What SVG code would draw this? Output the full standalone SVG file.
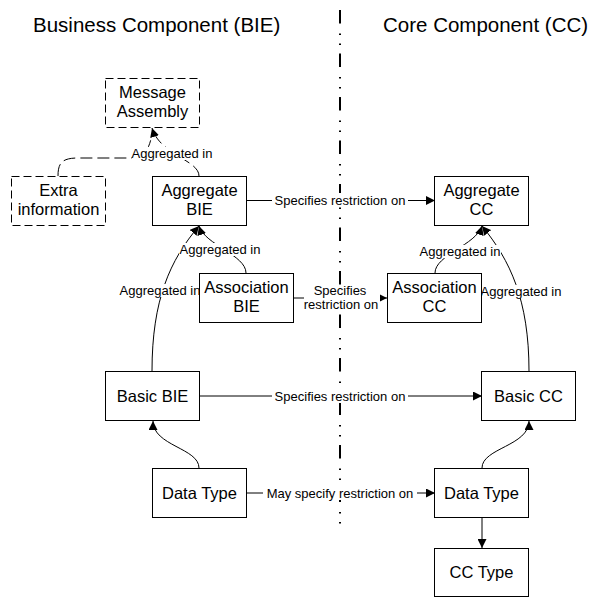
<svg xmlns="http://www.w3.org/2000/svg" width="606" height="597" viewBox="0 0 606 597">
  <style>
    .box { fill: #ffffff; stroke: #000000; stroke-width: 1; }
    .box.dashed { stroke-dasharray: 8 4; }
    .node-text { font-family: "Liberation Sans", Arial, sans-serif; font-size: 16.5px; fill: #000000; text-anchor: middle; }
    .title { font-family: "Liberation Sans", Arial, sans-serif; font-size: 20.5px; fill: #000000; }
    .edge { fill: none; stroke: #000000; stroke-width: 1; }
    .edge.dashed { stroke-dasharray: 12 5; }
    .edge-label { font-family: "Liberation Sans", Arial, sans-serif; font-size: 13px; fill: #000000; text-anchor: middle; }
    .label-bg { fill: #ffffff; }
    .divider { stroke: #000000; stroke-width: 2; stroke-dasharray: 13.5 10 1.5 8.5 1.5 8.5; }
  </style>
  <defs>
    <marker id="arrow" viewBox="0 0 10 10" refX="10" refY="5" markerWidth="9" markerHeight="9" markerUnits="userSpaceOnUse" orient="auto">
      <path d="M0,0 L10,5 L0,10 z" fill="#000000"/>
    </marker>
  </defs>

  <rect width="606" height="597" fill="#ffffff"/>

  <!-- column headings -->
  <text class="title" x="33" y="32">Business Component (BIE)</text>
  <text class="title" x="383" y="32">Core Component (CC)</text>

  <!-- separator between the two columns -->
  <line class="divider" x1="340" y1="10" x2="340" y2="527"/>

  <!-- connectors -->
  <g id="connectors">
    <path class="edge" d="M246,200.5 H435" marker-end="url(#arrow)"/>
    <path class="edge" d="M293,298 H387" marker-end="url(#arrow)"/>
    <path class="edge" d="M199,396 H482" marker-end="url(#arrow)"/>
    <path class="edge" d="M246,493 H435" marker-end="url(#arrow)"/>
    <path class="edge" d="M482,517 V548" marker-end="url(#arrow)"/>
    <path class="edge" d="M199,468 C199,448 153,446 153,421" marker-end="url(#arrow)"/>
    <path class="edge" d="M482,468 C482,448 529,446 529,421" marker-end="url(#arrow)"/>
    <path class="edge" d="M152,371 C152,300 170,260 199,226" marker-end="url(#arrow)"/>
    <path class="edge" d="M246,273 C246,255 205,245 199,226" marker-end="url(#arrow)"/>
    <path class="edge" d="M435,273 C435,255 476,245 482,226" marker-end="url(#arrow)"/>
    <path class="edge" d="M529,371 C529,300 510,260 482,226" marker-end="url(#arrow)"/>
    <path class="edge dashed" d="M199,176 C199,160 160,155 152,128" marker-end="url(#arrow)"/>
    <path class="edge dashed" d="M58,176 C58,163 62,158 78,158 L135,158 C145,158 150,146 152,134"/>

    <!-- connector labels -->
    <rect class="label-bg" x="272" y="193" width="136" height="14"/>
    <text class="edge-label" x="340" y="205">Specifies restriction on</text>
    <rect class="label-bg" x="304" y="285" width="76" height="27"/>
    <text class="edge-label" x="340" y="295">Specifies</text>
    <text class="edge-label" x="341" y="309">restriction on</text>
    <rect class="label-bg" x="272" y="389" width="136" height="14"/>
    <text class="edge-label" x="340" y="401">Specifies restriction on</text>
    <rect class="label-bg" x="263" y="486" width="154" height="14"/>
    <text class="edge-label" x="340" y="498">May specify restriction on</text>
    <rect class="label-bg" x="132" y="147" width="81" height="13"/>
    <text class="edge-label" x="172" y="158">Aggregated in</text>
    <rect class="label-bg" x="179" y="243" width="82" height="13"/>
    <text class="edge-label" x="220" y="254">Aggregated in</text>
    <rect class="label-bg" x="119" y="284" width="82" height="13"/>
    <text class="edge-label" x="160" y="295">Aggregated in</text>
    <rect class="label-bg" x="419" y="245" width="82" height="13"/>
    <text class="edge-label" x="460" y="256">Aggregated in</text>
    <rect class="label-bg" x="480" y="285" width="82" height="13"/>
    <text class="edge-label" x="521" y="296">Aggregated in</text>
  </g>

  <!-- nodes -->
  <g id="message-assembly">
    <rect class="box dashed" x="105.5" y="78.5" width="94" height="49"/>
    <text class="node-text" x="152.5" y="98">Message</text>
    <text class="node-text" x="152.5" y="117">Assembly</text>
  </g>
  <g id="extra-information">
    <rect class="box dashed" x="11.5" y="176.5" width="94" height="49"/>
    <text class="node-text" x="58.5" y="196">Extra</text>
    <text class="node-text" x="58.5" y="215">information</text>
  </g>
  <g id="aggregate-bie">
    <rect class="box" x="152.5" y="176.5" width="94" height="49"/>
    <text class="node-text" x="199.5" y="196">Aggregate</text>
    <text class="node-text" x="199.5" y="215">BIE</text>
  </g>
  <g id="aggregate-cc">
    <rect class="box" x="434.5" y="176.5" width="94" height="49"/>
    <text class="node-text" x="481.5" y="196">Aggregate</text>
    <text class="node-text" x="481.5" y="215">CC</text>
  </g>
  <g id="association-bie">
    <rect class="box" x="199.5" y="273.5" width="94" height="49"/>
    <text class="node-text" x="246.5" y="293">Association</text>
    <text class="node-text" x="246.5" y="312">BIE</text>
  </g>
  <g id="association-cc">
    <rect class="box" x="387.5" y="273.5" width="94" height="49"/>
    <text class="node-text" x="434.5" y="293">Association</text>
    <text class="node-text" x="434.5" y="312">CC</text>
  </g>
  <g id="basic-bie">
    <rect class="box" x="105.5" y="371.5" width="94" height="49"/>
    <text class="node-text" x="152.5" y="401.5">Basic BIE</text>
  </g>
  <g id="basic-cc">
    <rect class="box" x="481.5" y="371.5" width="94" height="49"/>
    <text class="node-text" x="528.5" y="401.5">Basic CC</text>
  </g>
  <g id="data-type-bie">
    <rect class="box" x="152.5" y="468.5" width="94" height="49"/>
    <text class="node-text" x="199.5" y="498.5">Data Type</text>
  </g>
  <g id="data-type-cc">
    <rect class="box" x="434.5" y="468.5" width="94" height="49"/>
    <text class="node-text" x="481.5" y="498.5">Data Type</text>
  </g>
  <g id="cc-type">
    <rect class="box" x="434.5" y="548.5" width="94" height="48"/>
    <text class="node-text" x="481.5" y="578">CC Type</text>
  </g>
</svg>
